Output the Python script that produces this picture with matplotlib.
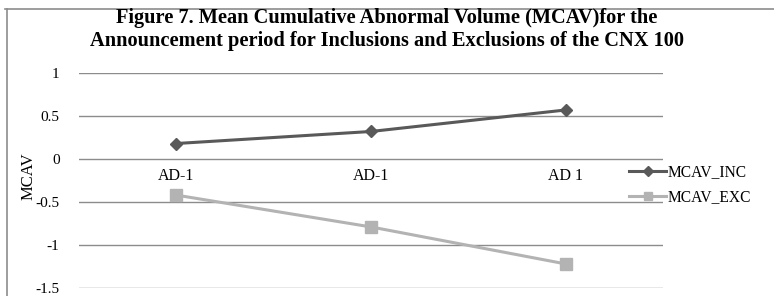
import matplotlib.pyplot as plt
from matplotlib.lines import Line2D

categories = ['AD-1', 'AD-1', 'AD 1']
mcav_inc = [0.18, 0.32, 0.57]
mcav_exc = [-0.42, -0.79, -1.22]
y_ticks = [1, 0.5, 0, -0.5, -1, -1.5]

plt.rcParams['font.family'] = ['Liberation Serif', 'DejaVu Serif']

fig = plt.figure(figsize=(7.74, 2.96), dpi=100)
W, H = 774, 296
ax = fig.add_axes([79 / W, 1 - 288 / H, (663 - 79) / W, (288 - 73) / H])

x = range(len(categories))
ax.plot(x, mcav_inc, color='#595959', lw=2.2, marker='D', ms=6, label='MCAV_INC')
ax.plot(x, mcav_exc, color='#b3b3b3', lw=2.2, marker='s', ms=8, label='MCAV_EXC')

ax.set_xlim(-0.5, len(categories) - 0.5)
ax.set_ylim(-1.5, 1)
ax.set_yticks(y_ticks)
ax.set_yticklabels([f'{v:g}' for v in y_ticks], fontsize=11)
ax.tick_params(axis='y', length=0, pad=14)
ax.set_xticks([])
ax.grid(axis='y', color='#8c8c8c', lw=1)
ax.set_axisbelow(True)
for s in ax.spines.values():
    s.set_visible(False)

# category labels sit just below the zero line
for i, c in enumerate(categories):
    ax.text(i, -0.1, c, ha='center', va='top', fontsize=11.5)

ax.set_ylabel('MCAV', fontsize=12)
ax.yaxis.set_label_coords(-0.072, 0.52)

fig.text(0.5, 1 - 18 / H, 'Figure 7. Mean Cumulative Abnormal Volume (MCAV)for the',
         ha='center', va='center', fontsize=14.7, fontweight='bold')
fig.text(0.5, 1 - 41 / H, 'Announcement period for Inclusions and Exclusions of the CNX 100',
         ha='center', va='center', fontsize=14.7, fontweight='bold')

ax.legend(loc='center left', bbox_to_anchor=(0.918, 0.48), frameon=False,
          fontsize=11.2, handlelength=2.4, handletextpad=0.1, labelspacing=0.6,
          markerscale=0.8)

# outer chart border
fig.add_artist(Line2D([7 / W, 7 / W], [0, 1 - 9 / H], color='#8c8c8c', lw=1.2))
fig.add_artist(Line2D([5 / W, 1], [1 - 9 / H, 1 - 9 / H], color='#8c8c8c', lw=1.2))

fig.savefig('out.png', dpi=100)
